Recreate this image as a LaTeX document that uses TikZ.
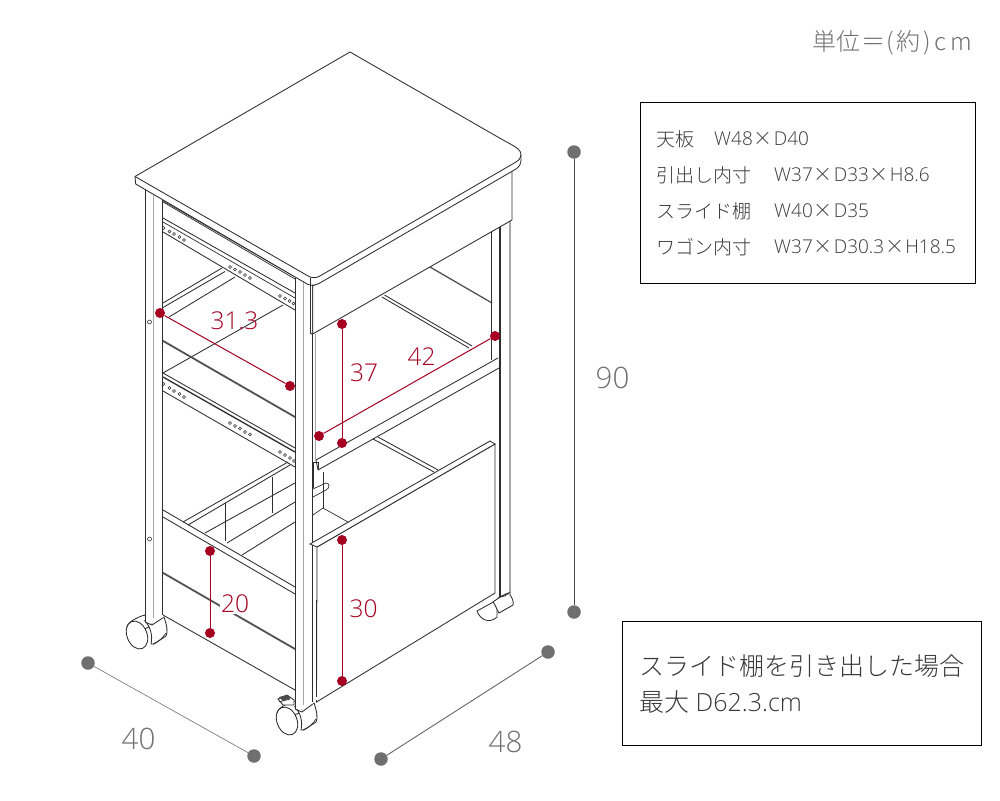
\documentclass[tikz,border=0pt]{standalone}
\usepackage{fontspec}
\setmainfont{Open Sans Light}
\newfontfamily\cjk{Noto Sans CJK JP Light}
\definecolor{dimred}{HTML}{A50021}
\definecolor{dimgray}{HTML}{6F6F6F}
\definecolor{txtgray}{HTML}{707070}
\definecolor{txtdark}{HTML}{383838}
\definecolor{ink}{HTML}{2E2E2E}
\tikzset{
 ln/.style={draw=ink,line width=0.85pt},
 thin ln/.style={draw=ink,line width=0.7pt},
 shade ln/.style={draw=black!35,line width=1.5pt},
 heavy ln/.style={draw=black!68,line width=1.8pt},
 hole/.style={circle,draw=ink,fill=white,line width=0.6pt,inner sep=0pt,minimum size=3.6pt},
 reddot/.style={circle,fill=dimred,inner sep=0pt,minimum size=10pt},
 redline/.style={draw=dimred,line width=1pt},
 redlab/.style={text=dimred,font=\fontsize{24.5}{25}\selectfont,inner sep=1pt},
 graydot/.style={circle,fill=dimgray,inner sep=0pt,minimum size=13.5pt},
 grayline/.style={draw=black!50,line width=0.7pt},
 graylab/.style={text=txtgray,font=\fontsize{29.5}{30}\selectfont,inner sep=0pt},
 infobox/.style={draw=black,line width=0.8pt,fill=white},
 infotxt/.style={text=txtdark,font=\fontsize{19}{19}\selectfont,anchor=west,inner sep=0pt},
 bigtxt/.style={text=txtdark,font=\fontsize{25}{25}\selectfont,anchor=west,inner sep=0pt},
}
\newcommand{\wheelpart}[2]{%
 \begin{scope}[shift={(#1,#2)}]
  \draw[ln,fill=white] (-18,5) .. controls (-19,0) and (-8,-6) .. (0,-8) -- (4,4) -- (-14,12) -- cycle;
  \draw[ln,fill=white] (-8,12) ellipse [x radius=10,y radius=14.5,rotate=22];
  \draw[ln,fill=white] (0,-2) .. controls (5,3) and (8,12) .. (6,21) -- (9,21) -- (21,13)
     .. controls (23,9) and (22,3) .. (19,-6) -- (7,0) -- cycle;
  \draw[thin ln] (8,21) .. controls (13,19) and (18,15) .. (21,10);
 \end{scope}}
\begin{document}
\begin{tikzpicture}[x=1pt,y=-1pt]
\useasboundingbox (0,0) rectangle (1000,800);
\fill[white] (0,0) rectangle (1000,800);

% ---- back structure, left side
\draw[ln] (163,303) -- (222,268);
\draw[ln] (163,307.5) -- (225,271.5);
\draw[ln] (169,317) -- (235,277);
\draw[ln] (163,373) -- (283,305);
\draw[heavy ln] (158,338) -- (295,417);
% upper slide rail
\draw[thin ln] (153,195) -- (295,277);
\draw[thin ln] (163,202) -- (295,279);
\draw[ln] (163,218) -- (295,293);
\draw[thin ln] (163,222) -- (295,298);
\draw[ln] (163,232) -- (295,310);
\foreach \p [count=\i] in {(163.5,228),(169.5,231.5),(174,234),(179.5,237),(184,240),
 (230,267),(235,269.5),(240,272),(245,275),(250,278),
 (280,296),(285,298.5),(289.5,301),(293.5,303.5)}
  \node[hole,minimum size=3pt] (ua\i) at \p {};
% lower slide rail
\draw[ln] (163,373) -- (295,448);
\draw[line width=1.3pt,draw=ink] (163,377) -- (295,452);
\draw[ln] (163,391) -- (295,467);
\foreach \p [count=\i] in {(163.5,384),(169.5,388),(174,391),(179.5,394),(184,397),
 (230,423),(235,426),(240,428.5),(245,432),(250,434.5),
 (280,452),(285,455),(290,458),(294,461)}
  \node[hole,minimum size=3pt] (la\i) at \p {};
% wagon interior
\draw[ln] (183,522) -- (288,462);
\draw[ln] (188,525) -- (290,465);
\draw[ln] (205,533) -- (295,483);
\draw[ln] (227,543) -- (295,502);
\draw[ln] (242,555) -- (295,522);
\draw[ln] (225,503) -- (225,541);
\draw[ln] (272,477) -- (272,513);
\draw[ln] (163,510) -- (295,587);
\draw[ln] (163,517) -- (295,594);
% wagon side panel
\draw[heavy ln] (158,570) -- (295,649);
\draw[ln] (163,615) -- (295,690);

% ---- wheels under legs
\wheelpart{145}{623}
\wheelpart{295}{709}
% rear right wheel
\draw[ln,fill=white] (477,611) .. controls (480,620) and (490,624) .. (497,617) -- (497,600) -- cycle;
\draw[ln,fill=white] (500,597) -- (508,593) .. controls (512,596) and (514,602) .. (513,605) -- (499,613) .. controls (497,610) and (495,604) .. (493,602) -- cycle;
\draw[thin ln] (498,598) -- (506,594);
% brake
\draw[ln,fill=white] (278,699) -- (287,695) -- (294,700) -- (294,705) -- (283,705) -- cycle;
\draw[thin ln] (279,702) -- (290,699);
\fill[black!70] (279,697) -- (287,695) -- (291,698) -- (283,701) -- cycle;

% ---- legs
\fill[white] (145,190) rectangle (162.5,623);
\draw[ln] (145,190) -- (145,622);
\draw[shade ln] (153.5,192) -- (153.5,618);
\draw[ln] (162.7,200) -- (162.7,615);
\draw[ln] (145,622) -- (152,625) -- (162.7,618);
\node[hole,minimum size=4pt,draw=ink] (ph1) at (149.5,322) {};
\node[hole,minimum size=4pt,draw=ink] (ph2) at (149.5,539) {};

\fill[white] (295,280) rectangle (312.5,709);
\draw[ln] (295,278) -- (295,709);
\draw[shade ln] (303.5,280) -- (303.5,705);
\draw[ln] (312.7,282) -- (312.7,702);
\draw[ln] (295,709) -- (302,712) -- (312.7,704);

% ---- rear right leg and back parts
\draw[ln] (384.5,295) -- (472,346);
\draw[ln] (382,297) -- (469,348);
\draw[heavy ln,line width=1.3pt] (430,267) -- (492,303);
\draw[ln] (491.5,230) -- (491.5,360);
\draw[line width=1.1pt,draw=ink] (500,224) -- (500,597);
\draw[shade ln,line width=1.2pt] (510,218) -- (510,595);
\draw[thin ln] (500,597) -- (505,596) -- (510,592);

% ---- top and apron
\draw[ln,fill=white] (312.7,286) -- (312.7,334) -- (512,220) -- (512,170) -- cycle;
\draw[ln,fill=white] (135,176.5) -- (350,52) -- (503,140)
  .. controls (518,148) and (521,150) .. (521,155) -- (521,160)
  .. controls (521,164) and (519,167) .. (516,169)
  -- (319,283.5) .. controls (316,285) and (313,286) .. (308,284.5)
  -- (135.7,184) -- cycle;
\draw[ln] (135,176.5) -- (309,276.5) .. controls (312,278) and (316,278) .. (319,276.5)
  -- (516,162) .. controls (519,160) and (521,158) .. (521,155);
\draw[thin ln] (310,277.5) -- (310,334);
\draw[ln] (310,333) -- (312.7,334.5);
\draw[shade ln,line width=1pt] (315,334) -- (315,460);

% ---- shelf
\draw[ln] (316,460) -- (498,358);
\draw[ln] (318,470) -- (499,368);
\draw[ln] (499,357) -- (499,368);
\draw[ln] (316,460) -- (318,470);
% stub behind the shelf
\draw[thin ln] (313,462) -- (318,462) -- (318,470);
\draw[thin ln] (313,488) -- (313,462);
\draw[thin ln] (323,472) -- (323,508);
\draw[thin ln] (313,489) -- (326,483) .. controls (330,483) and (330,488) .. (326,490) -- (313,497);
\draw[thin ln] (313,515) -- (323,508) -- (348,522);
% back cross of the wagon
\draw[ln] (373,439) -- (434,472);
\draw[ln] (378,437) -- (438,470);

% ---- wagon front
\draw[ln,fill=white] (317,547) -- (495,444) -- (495,593) -- (316.5,702) -- cycle;
\draw[ln,fill=white] (310,544) -- (490,441) -- (495,444) -- (317,547) -- cycle;
\draw[white,line width=1.4pt] (316.7,549) -- (316.7,700);
\draw[shade ln,line width=1.1pt] (316.7,549) -- (316.7,600);
\draw[ln] (316.7,600) -- (316.7,697);

% ---- red dimensions
\node[reddot] (a1) at (160,313) {};
\node[reddot] (a2) at (290,386) {};
\node[reddot] (b1) at (342,324) {};
\node[reddot] (b2) at (342,443) {};
\node[reddot] (c1) at (319,436) {};
\node[reddot] (c2) at (495,336) {};
\node[reddot] (d1) at (210,551) {};
\node[reddot] (d2) at (210,633) {};
\node[reddot] (e1) at (342,540) {};
\node[reddot] (e2) at (342,681) {};
\draw[redline] (a1) -- (a2);
\draw[redline] (b1) -- (b2);
\draw[redline] (c1) -- (c2);
\draw[redline] (d1) -- (d2);
\draw[redline] (e1) -- (e2);
\node[redlab] (l313) at (234.5,321) {31.3};
\node[redlab] (l37) at (364,373) {37};
\node[redlab] (l42) at (421.5,357) {42};
\node[redlab,fill=white] (l20) at (235,604) {20};
\node[redlab] (l30) at (363.5,609) {30};

% ---- gray dimensions
\node[graydot] (h1) at (574,152) {};
\node[graydot] (h2) at (574,612) {};
\node[graydot] (w1) at (88,663) {};
\node[graydot] (w2) at (254,756) {};
\node[graydot] (v1) at (548,652) {};
\node[graydot] (v2) at (381,759) {};
\draw[draw=black!70,line width=0.9pt] (h1) -- (h2);
\draw[grayline] (w1) -- (w2);
\draw[draw=black!60,line width=0.9pt] (v1) -- (v2);
\node[graylab] (l90) at (612.5,378) {90};
\node[graylab] (l40) at (138.5,739) {40};
\node[graylab] (l48) at (505.5,742) {48};

% ---- texts and boxes
\node[text=txtgray,font=\fontsize{24}{24}\selectfont,anchor=east,inner sep=0pt] (unit) at (972,43) {\cjk 単位\kern1pt＝\kern1pt(\kern3pt 約\kern3pt)\kern3pt c\kern4pt m};
\node[infobox,inner sep=0pt,anchor=north west,minimum height=181pt,text width=335pt] (box1) at (640,102) {};
\node[infotxt] (r1a) at (656,139) {\cjk 天板};
\node[infotxt] (r1b) at (714,139) {W48\kern1pt{\cjk ×}\kern1pt D40};
\node[infotxt] (r2a) at (656,175) {\cjk 引出し内寸};
\node[infotxt] (r2b) at (774,175) {W37\kern1pt{\cjk ×}\kern1pt D33\kern1pt{\cjk ×}\kern1pt H8.6};
\node[infotxt] (r3a) at (656,211) {\cjk スライド棚};
\node[infotxt] (r3b) at (774,211) {W40\kern1pt{\cjk ×}\kern1pt D35};
\node[infotxt] (r4a) at (656,247) {\cjk ワゴン内寸};
\node[infotxt] (r4b) at (774,247) {W37\kern1pt{\cjk ×}\kern1pt D30.3\kern1pt{\cjk ×}\kern1pt H18.5};
\node[infobox,inner sep=0pt,anchor=north west,minimum height=124pt,text width=359pt] (box2) at (622,621) {};
\node[bigtxt] (s1) at (639,666) {\cjk スライド棚を引き出した場合};
\node[bigtxt] (s2) at (639,702) {{\cjk 最大} D62.3.cm};
\end{tikzpicture}
\end{document}
